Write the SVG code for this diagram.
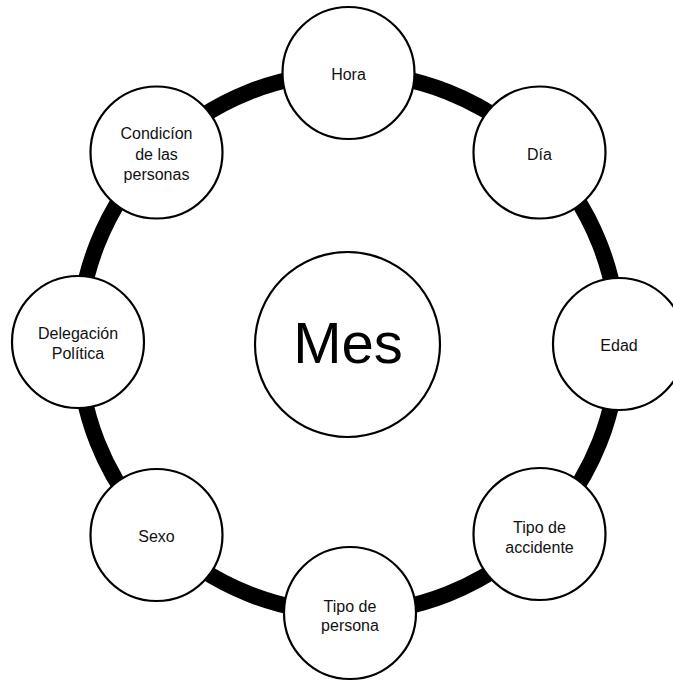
<svg xmlns="http://www.w3.org/2000/svg" width="673" height="681" viewBox="0 0 673 681">
  <style>
    .node { fill: #ffffff; stroke: #000000; stroke-width: 2.2; }
    .lbl { font-family: "Liberation Sans", Arial, sans-serif; font-size: 16px; fill: #111111; text-anchor: middle; }
    .big { font-family: "Liberation Sans", Arial, sans-serif; font-size: 58px; fill: #000000; text-anchor: middle; }
    .ring { fill: none; stroke: #000000; stroke-width: 16; }
  </style>
  <rect width="673" height="681" fill="#ffffff"/>

  <!-- cycle ring linking the outer nodes -->
  <g id="connectors">
    <circle class="ring" cx="348.5" cy="343" r="270"/>
  </g>

  <g id="node-mes">
    <circle class="node" cx="347.5" cy="344.5" r="92.5"/>
    <text class="big" x="348" y="363">Mes</text>
  </g>

  <g id="node-hora">
    <circle class="node" cx="348.5" cy="73" r="66"/>
    <text class="lbl" x="348.5" y="80">Hora</text>
  </g>

  <g id="node-dia">
    <circle class="node" cx="539.5" cy="152.5" r="66"/>
    <text class="lbl" x="539.5" y="159.5">Día</text>
  </g>

  <g id="node-edad">
    <circle class="node" cx="619" cy="344" r="66"/>
    <text class="lbl" x="619" y="350.5">Edad</text>
  </g>

  <g id="node-tipo-accidente">
    <circle class="node" cx="539.5" cy="534" r="66"/>
    <text class="lbl" x="539.5" y="533">Tipo de</text>
    <text class="lbl" x="539.5" y="552.5">accidente</text>
  </g>

  <g id="node-tipo-persona">
    <circle class="node" cx="350" cy="613" r="66"/>
    <text class="lbl" x="350" y="611.5">Tipo de</text>
    <text class="lbl" x="350" y="631">persona</text>
  </g>

  <g id="node-sexo">
    <circle class="node" cx="156.5" cy="535" r="66"/>
    <text class="lbl" x="156.5" y="541.5">Sexo</text>
  </g>

  <g id="node-delegacion">
    <circle class="node" cx="78" cy="342" r="66"/>
    <text class="lbl" x="78" y="339">Delegación</text>
    <text class="lbl" x="78" y="358.5">Política</text>
  </g>

  <g id="node-condicion">
    <circle class="node" cx="156.5" cy="152.5" r="66"/>
    <text class="lbl" x="156.5" y="139">Condicíon</text>
    <text class="lbl" x="156.5" y="159.5">de las</text>
    <text class="lbl" x="156.5" y="180">personas</text>
  </g>
</svg>
